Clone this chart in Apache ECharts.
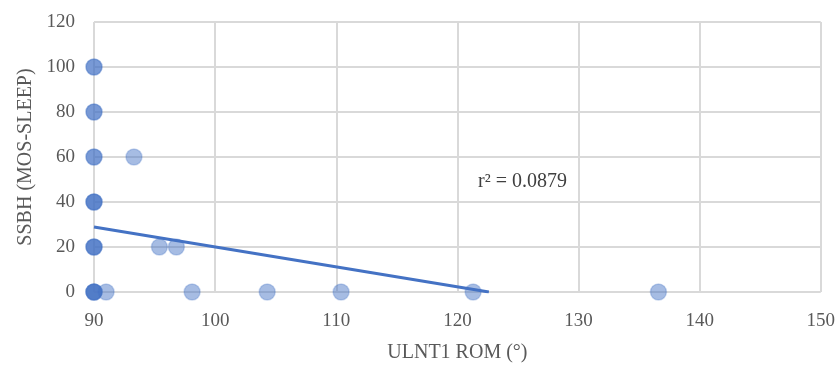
<!DOCTYPE html>
<html><head><meta charset="utf-8">
<script src="https://cdn.jsdelivr.net/npm/echarts@6/dist/echarts.min.js"></script>
<style>html,body{margin:0;padding:0;background:#fff}#c{width:838px;height:369px}</style>
</head><body><div id="c"></div>
<script>
// ULNT1 ROM (°) values and SSBH (MOS-SLEEP) values
const romValues  = [90, 90, 90, 90, 90, 90, 90, 90, 90, 90, 90, 90, 90, 90, 90, 90, 93.3, 95.4, 96.8, 91.0, 98.1, 104.3, 110.4, 121.3, 136.6];
const ssbhValues = [100, 100, 80, 80, 60, 60, 40, 40, 40, 20, 20, 20, 0, 0, 0, 0, 60, 20, 20, 0, 0, 0, 0, 0, 0];
// linear trendline endpoints (clipped at y = 0)
const trendX = [90, 122.6];
const trendY = [28.9, 0];
const xTicks = [90, 100, 110, 120, 130, 140, 150];
const yTicks = [0, 20, 40, 60, 80, 100, 120];
const r2Label = 'r² = 0.0879';

const pts = romValues.map((x, i) => [x, ssbhValues[i]]);
const trend = trendX.map((x, i) => [x, trendY[i]]);
const font = "'Liberation Serif', 'DejaVu Serif', serif";
const chart = echarts.init(document.getElementById('c'));
chart.setOption({
  animation: false,
  grid: {left: 94, right: 16, top: 22, bottom: 77},
  xAxis: {
    type: 'value', min: xTicks[0], max: xTicks[xTicks.length-1], interval: 10,
    name: 'ULNT1 ROM (°)', nameLocation: 'middle', nameGap: 51,
    nameTextStyle: {fontFamily: font, fontSize: 20, color: '#595959'},
    axisLine: {show: false}, axisTick: {show: false},
    axisLabel: {fontFamily: font, fontSize: 19, color: '#595959', margin: 20},
    splitLine: {lineStyle: {color: '#d9d9d9', width: 2}}
  },
  yAxis: {
    type: 'value', min: yTicks[0], max: yTicks[yTicks.length-1], interval: 20,
    name: 'SSBH (MOS-SLEEP)', nameLocation: 'middle', nameGap: 56,
    nameTextStyle: {fontFamily: font, fontSize: 20, color: '#595959'},
    axisLine: {show: false}, axisTick: {show: false},
    axisLabel: {fontFamily: font, fontSize: 19, color: '#595959', margin: 19},
    splitLine: {lineStyle: {color: '#d9d9d9', width: 2}}
  },
  series: [
    {type: 'scatter', data: pts, symbolSize: 16,
     itemStyle: {color: 'rgba(68,114,196,0.6)', borderColor: 'rgba(68,114,196,0.35)', borderWidth: 1.5}},
    {type: 'line', data: trend, symbol: 'none', lineStyle: {color: '#4472C4', width: 3}, z: 3}
  ],
  graphic: [{type: 'text', left: 478, top: 172,
    style: {text: r2Label, font: "20px " + font, fill: '#404040'}}]
});
</script></body></html>
